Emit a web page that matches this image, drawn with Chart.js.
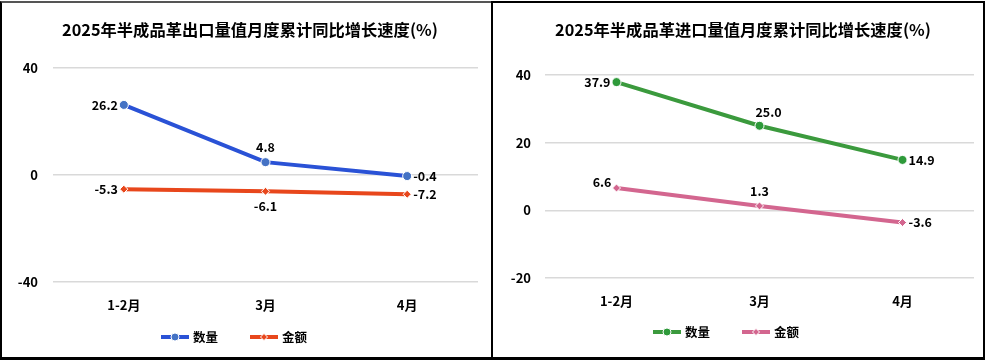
<!DOCTYPE html>
<html>
<head>
<meta charset="utf-8">
<script src="https://cdn.jsdelivr.net/npm/chart.js@4.4.1/dist/chart.umd.min.js"></script>
<style>
    body { margin: 0; background: #fff; width: 986px; height: 360px; position: relative; overflow: hidden; }
    .panel { position: absolute; top: 1px; height: 354px; border: 2px solid #000; border-bottom-width: 3px; }
    #p1 { left: 0; width: 489px; border-right: none; border-top-color: #555; }
    #p2 { left: 491px; width: 490px; }
    canvas { display: block; }
</style>
</head>
<body>
<div class="panel" id="p1"><canvas id="exportChart" width="489" height="354"></canvas></div>
<div class="panel" id="p2"><canvas id="importChart" width="490" height="354"></canvas></div>
<script>
const months = ['1-2月', '3月', '4月'];
const seriesNames = ['数量', '金额'];

// 出口
const exportQty = [26.2, 4.8, -0.4];
const exportValue = [-5.3, -6.1, -7.2];
const exportTicks = [-40, 0, 40];

// 进口
const importQty = [37.9, 25.0, 14.9];
const importValue = [6.6, 1.3, -3.6];
const importTicks = [-20, 0, 20, 40];

const FONT = '"Noto Sans CJK SC", "Noto Sans", sans-serif';

Chart.defaults.font.family = FONT;
Chart.defaults.font.weight = 'bold';
Chart.defaults.color = '#000';

// etichette sui punti
const pointLabels = {
    id: 'pointLabels',
    afterDatasetsDraw(chart) {
        const ctx = chart.ctx;
        ctx.save();
        ctx.font = 'bold 12.5px ' + FONT;
        ctx.fillStyle = '#000';
        chart.data.datasets.forEach((ds, i) => {
            const meta = chart.getDatasetMeta(i);
            meta.data.forEach((pt, j) => {
                const pos = ds.labelPos[j];
                const text = ds.data[j].toFixed(1);
                let x = pt.x, y = pt.y;
                ctx.textBaseline = 'middle';
                if (pos === 'left') { ctx.textAlign = 'right'; x -= 6; }
                else if (pos === 'right') { ctx.textAlign = 'left'; x += 6; }
                else if (pos === 'top') { ctx.textAlign = 'center'; y -= 15; }
                else if (pos === 'topright') { ctx.textAlign = 'center'; x += 9; y -= 14; }
                else if (pos === 'topleft') { ctx.textAlign = 'right'; x -= 5; y -= 6; }
                else { ctx.textAlign = 'center'; y += 15; }
                ctx.fillText(text, x, y);
            });
        });
        ctx.restore();
    }
};

// titolo posizionato a mano
const panelTitle = {
    id: 'panelTitle',
    afterDraw(chart, args, opts) {
        const ctx = chart.ctx;
        ctx.save();
        ctx.font = 'bold 16.3px ' + FONT;
        ctx.fillStyle = '#000';
        ctx.textAlign = 'center';
        ctx.textBaseline = 'middle';
        ctx.fillText(opts.text, opts.x, opts.y);
        ctx.restore();
    }
};

// legenda disegnata a mano (linea + marcatore + testo)
const lineLegend = {
    id: 'lineLegend',
    afterDraw(chart, args, opts) {
        const ctx = chart.ctx;
        ctx.save();
        ctx.font = 'bold 12.5px ' + FONT;
        ctx.textBaseline = 'middle';
        ctx.textAlign = 'left';
        const items = chart.data.datasets.map(ds => ({ ds, w: ctx.measureText(ds.label).width }));
        const total = items.reduce((s, it) => s + 28 + 4 + it.w, 0) + 32 * (items.length - 1);
        let x = opts.centerX - total / 2;
        const y = opts.y;
        items.forEach(({ ds, w }) => {
            ctx.strokeStyle = ds.borderColor;
            ctx.lineWidth = 4;
            ctx.beginPath();
            ctx.moveTo(x, y);
            ctx.lineTo(x + 28, y);
            ctx.stroke();
            ctx.fillStyle = ds.pointBackgroundColor;
            ctx.strokeStyle = '#fff';
            ctx.lineWidth = 1;
            ctx.beginPath();
            if (ds.pointStyle === 'rectRot') {
                ctx.moveTo(x + 14, y - 3.5); ctx.lineTo(x + 17.5, y); ctx.lineTo(x + 14, y + 3.5); ctx.lineTo(x + 10.5, y); ctx.closePath();
            } else {
                ctx.arc(x + 14, y, 4, 0, Math.PI * 2);
            }
            ctx.fill();
            ctx.stroke();
            ctx.fillStyle = '#000';
            ctx.fillText(ds.label, x + 32, y + 0.5);
            x += 28 + 4 + w + 32;
        });
        ctx.restore();
    }
};

function makeChart(id, cfg) {
    return new Chart(document.getElementById(id), {
        type: 'line',
        data: {
            labels: months,
            datasets: [
                {
                    label: seriesNames[0],
                    data: cfg.qty,
                    borderColor: cfg.colors[0],
                    backgroundColor: cfg.pointColors[0],
                    pointBackgroundColor: cfg.pointColors[0],
                    pointBorderColor: '#fff',
                    pointBorderWidth: 1,
                    pointRadius: 4.5,
                    pointStyle: 'circle',
                    borderWidth: 4,
                    tension: 0,
                    labelPos: cfg.qtyPos
                },
                {
                    label: seriesNames[1],
                    data: cfg.value,
                    borderColor: cfg.colors[1],
                    backgroundColor: cfg.pointColors[1],
                    pointBackgroundColor: cfg.pointColors[1],
                    pointBorderColor: '#fff',
                    pointBorderWidth: 1,
                    pointRadius: 4,
                    pointStyle: 'rectRot',
                    borderWidth: 4,
                    tension: 0,
                    labelPos: cfg.valuePos
                }
            ]
        },
        options: {
            responsive: false,
            animation: false,
            events: [],
            layout: { padding: { left: 0, right: cfg.padRight, top: cfg.padTop, bottom: cfg.padBottom } },
            plugins: {
                title: { display: false },
                panelTitle: { text: cfg.title, x: cfg.titleX, y: 27 },
                legend: { display: false },
                lineLegend: { centerX: cfg.legendX, y: cfg.legendY },
                tooltip: { enabled: false }
            },
            scales: {
                x: {
                    offset: true,
                    grid: { display: false },
                    border: { display: false },
                    ticks: { padding: cfg.xPad, font: { size: 13, weight: 'bold' }, color: '#000' },
                    afterFit(scale) { scale.height = 40; }
                },
                y: {
                    min: cfg.ticks[0],
                    max: cfg.ticks[cfg.ticks.length - 1],
                    afterBuildTicks(scale) { scale.ticks = cfg.ticks.map(v => ({ value: v })); },
                    grid: { color: '#d9d9d9', lineWidth: 1.5, drawTicks: false },
                    border: { display: false },
                    ticks: { padding: cfg.yPad, font: { size: 13, weight: 'bold' }, color: '#000' },
                    afterFit(scale) { scale.width = cfg.yWidth; }
                }
            }
        },
        plugins: [pointLabels, panelTitle, lineLegend]
    });
}

makeChart('exportChart', {
    title: '2025年半成品革出口量值月度累计同比增长速度(%)',
    qty: exportQty,
    value: exportValue,
    ticks: exportTicks,
    colors: ['#2a52d6', '#e8471c'],
    pointColors: ['#4472c4', '#e8471c'],
    qtyPos: ['left', 'top', 'right'],
    valuePos: ['left', 'bottom', 'right'],
    titleX: 248,
    padTop: 65,
    xPad: 7,
    yPad: 15,
    yWidth: 51,
    padRight: 13,
    padBottom: 35,
    legendX: 232,
    legendY: 334
});

makeChart('importChart', {
    title: '2025年半成品革进口量值月度累计同比增长速度(%)',
    qty: importQty,
    value: importValue,
    ticks: importTicks,
    colors: ['#3b9a3d', '#d3668f'],
    pointColors: ['#2e9a3a', '#d3668f'],
    qtyPos: ['left', 'topright', 'right'],
    valuePos: ['topleft', 'top', 'right'],
    titleX: 250,
    padTop: 72,
    xPad: 7,
    yPad: 14,
    yWidth: 52,
    padRight: 9,
    padBottom: 39,
    legendX: 233,
    legendY: 329
});
</script>
</body>
</html>
